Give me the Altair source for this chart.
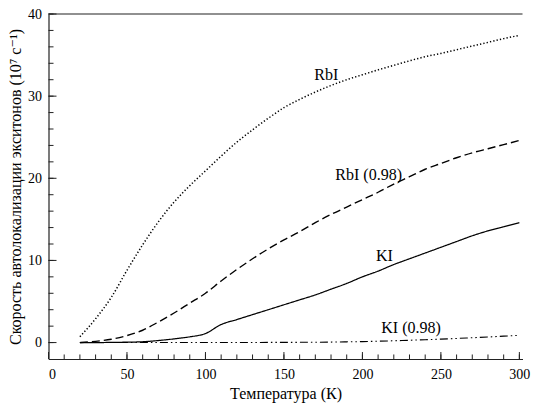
import altair as alt
import pandas as pd

# Temperatures (K)
T = [20, 30, 40, 50, 60, 70, 80, 90, 100, 110, 120, 130, 140, 150, 160, 170, 180,
     190, 200, 210, 220, 230, 240, 250, 260, 270, 280, 290, 300]

rbi = [0.7, 2.9, 5.5, 8.8, 11.9, 14.7, 17.1, 19.1, 20.9, 22.7, 24.4, 25.9, 27.3,
       28.6, 29.6, 30.5, 31.3, 32.0, 32.6, 33.2, 33.75, 34.3, 34.8, 35.2, 35.65,
       36.1, 36.55, 37.0, 37.4]
rbi098 = [0.0, 0.15, 0.4, 0.85, 1.5, 2.5, 3.6, 4.8, 6.0, 7.5, 8.9, 10.2, 11.4,
          12.5, 13.5, 14.6, 15.6, 16.5, 17.4, 18.3, 19.3, 20.2, 21.1, 21.8, 22.5,
          23.1, 23.6, 24.1, 24.6]
ki = [0.0, 0.0, 0.02, 0.05, 0.1, 0.25, 0.45, 0.7, 1.1, 2.2, 2.8, 3.4, 4.0, 4.6,
      5.2, 5.8, 6.5, 7.2, 8.0, 8.7, 9.5, 10.2, 10.9, 11.6, 12.3, 13.0, 13.6, 14.1,
      14.6]
ki098 = [0.0, 0.0, 0.0, 0.0, 0.0, 0.0, 0.0, 0.0, 0.0, 0.0, 0.01, 0.01, 0.02, 0.02,
         0.03, 0.04, 0.06, 0.09, 0.12, 0.17, 0.22, 0.28, 0.35, 0.42, 0.5, 0.59,
         0.68, 0.78, 0.88]

series_names = ["RbI", "RbI (0.98)", "KI", "KI (0.98)"]
series_vals = [rbi, rbi098, ki, ki098]
dashes = [[1.3, 2.1], [8, 4], [1, 0], [8, 3, 1.5, 3, 1.5, 3]]
widths = [1.5, 1.1, 1.1, 1.1]

label_text = ["RbI", "RbI (0.98)", "KI", "KI (0.98)"]
label_x = [177, 204, 214, 231]
label_y = [32.6, 20.4, 10.5, 1.8]

x_ticks = [0, 50, 100, 150, 200, 250, 300]
y_ticks = [0, 10, 20, 30, 40]
x_minor = list(range(0, 301, 10))
y_minor = list(range(0, 41, 2))

W, H = 474, 345
FONT = "Times New Roman, Liberation Serif, DejaVu Serif, serif"
XTITLE = "Температура (К)"
YTITLE = "Скорость автолокализации экситонов (10⁷ с⁻¹)"

rows = []
for name, vals in zip(series_names, series_vals):
    for t, v in zip(T, vals):
        rows.append({"series": name, "T": t, "rate": v})
df = pd.DataFrame(rows)

xs = alt.Scale(domain=[0, 302], nice=False, zero=False)
ys = alt.Scale(domain=[-2, 40], nice=False, zero=False)

xaxis = alt.Axis(values=x_ticks, title=XTITLE, ticks=False,
                 grid=False, labelPadding=8, titlePadding=4,
                 labelFont=FONT, titleFont=FONT, labelFontSize=14,
                 titleFontSize=16, titleFontWeight="normal",
                 labelColor="black", titleColor="black",
                 domainColor="#222", domainWidth=1.2)
yaxis = alt.Axis(values=y_ticks, title=YTITLE,
                 ticks=False, grid=False, labelPadding=7, titlePadding=4,
                 labelFont=FONT, titleFont=FONT, labelFontSize=14,
                 titleFontSize=16, titleFontWeight="normal",
                 labelColor="black", titleColor="black",
                 domainColor="#222", domainWidth=1.2)


def X(field):
    return alt.X(field, type="quantitative", scale=xs, axis=xaxis, title=XTITLE)


def Y(field):
    return alt.Y(field, type="quantitative", scale=ys, axis=yaxis, title=YTITLE)


lines = alt.Chart(df).mark_line(color="black", interpolate="monotone").encode(
    x=X("T"),
    y=Y("rate"),
    strokeDash=alt.StrokeDash("series:N",
                              scale=alt.Scale(domain=series_names, range=dashes),
                              legend=None),
    strokeWidth=alt.StrokeWidth("series:N",
                                scale=alt.Scale(domain=series_names, range=widths),
                                legend=None),
    detail="series:N",
)

labels = alt.Chart(pd.DataFrame({"t": label_text, "T": label_x, "rate": label_y})).mark_text(
    font=FONT, fontSize=16, color="black"
).encode(x=X("T"), y=Y("rate"), text="t:N")

xmaj = alt.Chart(pd.DataFrame({"T": x_ticks, "rate": [-2] * len(x_ticks),
                               "top": [-1.15] * len(x_ticks)})).mark_rule(color="#222").encode(
    x=X("T"), y=Y("rate"), y2="top:Q")
xmin = alt.Chart(pd.DataFrame({"T": x_minor, "rate": [-2] * len(x_minor),
                               "top": [-1.45] * len(x_minor)})).mark_rule(color="#222").encode(
    x=X("T"), y=Y("rate"), y2="top:Q")
ymaj = alt.Chart(pd.DataFrame({"rate": y_ticks})).mark_rule(color="#222").encode(
    y=Y("rate"), x=alt.value(0), x2=alt.value(8))
ymin = alt.Chart(pd.DataFrame({"rate": y_minor})).mark_rule(color="#222").encode(
    y=Y("rate"), x=alt.value(0), x2=alt.value(5))
top = alt.Chart(pd.DataFrame({"rate": [40]})).mark_rule(color="#222", strokeWidth=1.2).encode(
    y=Y("rate"), x=alt.value(0), x2=alt.value(W))

chart = alt.layer(lines, labels, xmaj, xmin, ymaj, ymin, top).properties(
    width=W, height=H,
    autosize=alt.AutoSizeParams(type="none"),
    padding={"left": 40.5, "top": 6, "right": 8, "bottom": 47},
).configure_view(stroke=None)

chart.save("out.html", embed_options={"renderer": "svg", "actions": False})
